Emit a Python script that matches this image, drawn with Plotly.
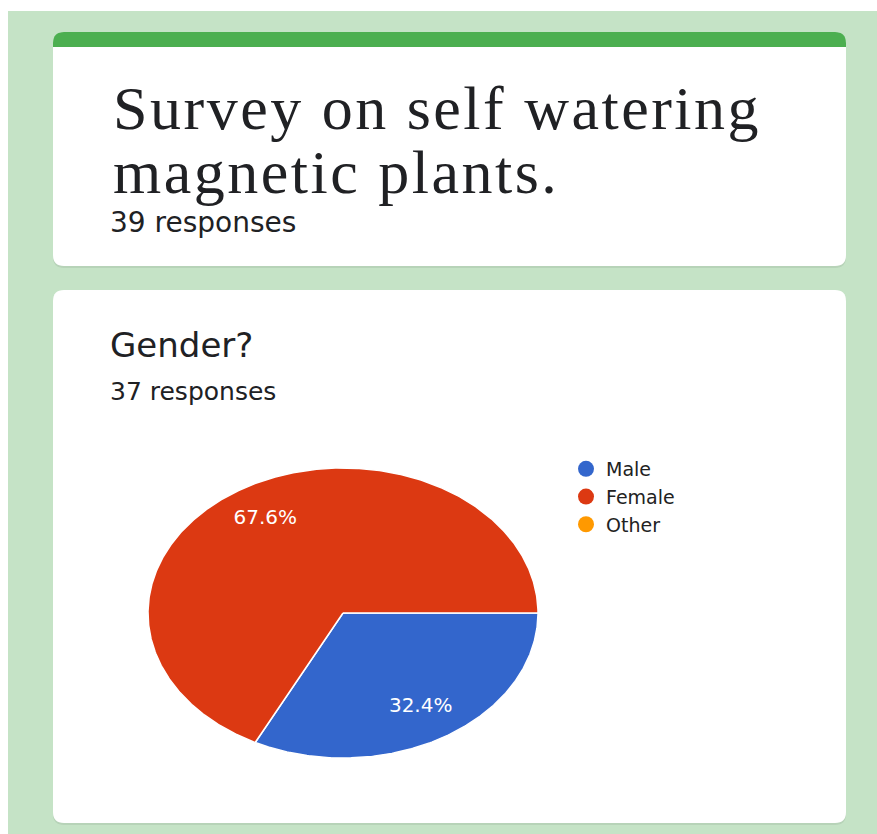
import numpy as np
import plotly.graph_objects as go

# ---- data ----
form_title_lines = ["Survey on self watering", "magnetic plants."]
form_responses = 39
question = "Gender?"
question_responses = 37
categories = ["Male", "Female", "Other"]
counts = [12, 25, 0]
colors = ["#3366cc", "#dc3912", "#ff9900"]

W, H = 877, 834


def X(px):
    return px / W


def Y(py):
    return 1 - py / H


def rounded_rect(x0, y0, x1, y1, r, top=True, bottom=True):
    """SVG path (paper coords) for a rectangle given in pixels, with rounded corners."""
    rx, ry = r / W, r / H
    a, b, c, d = X(x0), Y(y0), X(x1), Y(y1)  # b is top (larger), d is bottom
    p = []
    if top:
        p.append(f"M{a},{b - ry} Q{a},{b} {a + rx},{b} L{c - rx},{b} Q{c},{b} {c},{b - ry}")
    else:
        p.append(f"M{a},{b} L{c},{b}")
    if bottom:
        p.append(f"L{c},{d + ry} Q{c},{d} {c - rx},{d} L{a + rx},{d} Q{a},{d} {a},{d + ry} Z")
    else:
        p.append(f"L{c},{d} L{a},{d} Z")
    return " ".join(p)


shapes = []
# page background
shapes.append(dict(type="rect", xref="paper", yref="paper", x0=X(8), x1=X(877), y0=Y(834), y1=Y(11),
                   fillcolor="#c5e3c6", line_width=0, layer="below"))
# cards with a faint drop shadow
for (y0, y1) in [(32, 266), (290, 823)]:
    shapes.append(dict(type="path", xref="paper", yref="paper",
                       path=rounded_rect(53, y0 + 1, 846, y1 + 2, 11),
                       fillcolor="rgba(0,0,0,0.07)", line_width=0, layer="below"))
    shapes.append(dict(type="path", xref="paper", yref="paper",
                       path=rounded_rect(53, y0, 846, y1, 11),
                       fillcolor="white", line_width=0, layer="below"))
# green header strip on the form card
shapes.append(dict(type="path", xref="paper", yref="paper",
                   path=rounded_rect(53, 32, 846, 47, 11, top=True, bottom=False),
                   fillcolor="#4caf50", line_width=0, layer="below"))

annotations = []
TEXT = "#202124"


def spaced(s, px):
    return f'<span style="letter-spacing:{px}px">{s}</span>'


annotations.append(dict(text=spaced(form_title_lines[0], 2.5), x=X(111), y=Y(108), xref="paper", yref="paper",
                        xanchor="left", yanchor="middle", showarrow=False,
                        font=dict(family="Liberation Serif", size=62, color=TEXT)))
annotations.append(dict(text=spaced(form_title_lines[1], 2.5), x=X(111), y=Y(172), xref="paper", yref="paper",
                        xanchor="left", yanchor="middle", showarrow=False,
                        font=dict(family="Liberation Serif", size=62, color=TEXT)))
annotations.append(dict(text=f"{form_responses} responses", x=X(108), y=Y(222), xref="paper", yref="paper",
                        xanchor="left", yanchor="middle", showarrow=False,
                        font=dict(family="DejaVu Sans", size=28, color=TEXT)))
annotations.append(dict(text=question, x=X(108), y=Y(345), xref="paper", yref="paper",
                        xanchor="left", yanchor="middle", showarrow=False,
                        font=dict(family="DejaVu Sans", size=34, color=TEXT)))
annotations.append(dict(text=f"{question_responses} responses", x=X(108), y=Y(392), xref="paper", yref="paper",
                        xanchor="left", yanchor="middle", showarrow=False,
                        font=dict(family="DejaVu Sans", size=25, color=TEXT)))

fig = go.Figure()

# pie slices, clockwise from 3 o'clock, drawn on stretched unit axes
total = sum(counts)
start = 0.0
label_x, label_y, label_txt = [], [], []
for name, v, col in zip(categories, counts, colors):
    frac = v / total
    if v > 0:
        t = np.linspace(start, start + frac, max(int(frac * 720), 2)) * 2 * np.pi
        xs = np.concatenate([[0], np.cos(t), [0]])
        ys = np.concatenate([[0], -np.sin(t), [0]])
        fig.add_trace(go.Scatter(x=xs, y=ys, mode="lines", fill="toself", fillcolor=col,
                                 line=dict(color="white", width=1.5), hoverinfo="skip",
                                 showlegend=False))
        mid = (start + frac / 2) * 2 * np.pi
        label_x.append(0.76 * np.cos(mid))
        label_y.append(-0.76 * np.sin(mid))
        label_txt.append(f"{frac * 100:.1f}%")
    start += frac

fig.add_trace(go.Scatter(x=label_x, y=label_y, mode="text", text=label_txt,
                         textfont=dict(family="DejaVu Sans", size=20, color="white"),
                         hoverinfo="skip", showlegend=False))

# legend entries
for name, col in zip(categories, colors):
    fig.add_trace(go.Scatter(x=[None], y=[None], mode="markers", name=name,
                             marker=dict(symbol="circle", size=17, color=col)))

fig.update_layout(
    width=W, height=H,
    margin=dict(l=0, r=0, t=0, b=0),
    paper_bgcolor="white", plot_bgcolor="rgba(0,0,0,0)",
    shapes=shapes, annotations=annotations,
    xaxis=dict(domain=[X(148), X(538)], range=[-1, 1], visible=False, fixedrange=True),
    yaxis=dict(domain=[Y(758), Y(468)], range=[-1, 1], visible=False, fixedrange=True),
    legend=dict(x=X(566), y=Y(450), xanchor="left", yanchor="top",
                font=dict(family="DejaVu Sans", size=19, color="#222222"),
                bgcolor="rgba(0,0,0,0)", itemwidth=30, tracegroupgap=0),
    showlegend=True,
)

fig.write_html("out.html", config={"displayModeBar": False})
